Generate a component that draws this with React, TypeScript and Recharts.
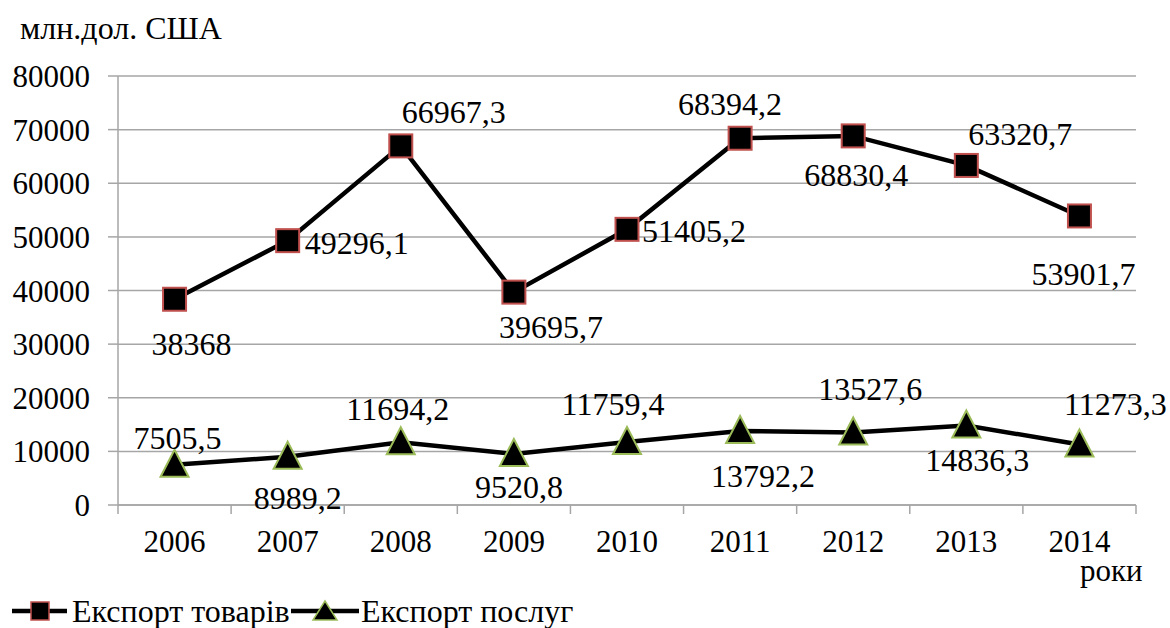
import React from 'react';
import { LineChart, Line, XAxis, YAxis, CartesianGrid, LabelList } from 'recharts';

const years = ['2006', '2007', '2008', '2009', '2010', '2011', '2012', '2013', '2014'];
const goodsExport = [38368, 49296.1, 66967.3, 39695.7, 51405.2, 68394.2, 68830.4, 63320.7, 53901.7];
const servicesExport = [7505.5, 8989.2, 11694.2, 9520.8, 11759.4, 13792.2, 13527.6, 14836.3, 11273.3];
const yTicks = [0, 10000, 20000, 30000, 40000, 50000, 60000, 70000, 80000];

const goodsName = 'Експорт товарів';
const servicesName = 'Експорт послуг';
const unitTitle = 'млн.дол. США';
const xUnit = 'роки';

// label placement offsets (dx, dy of label centre relative to the point)
const goodsLabelDx = [17, 69, 53, 37, 67, -10, 3, 54, 4];
const goodsLabelDy = [45, 2, -34, 35, 2, -34, 39, -31, 58];
const servLabelDx = [3, 10, -3, 5, -14, 23, 17, 11, 36];
const servLabelDy = [-27, 41, -33, 33, -38, 45, -43, 35, -41];

const FONT = 'Liberation Serif';
const GRID = '#a6a6a6';
const RED = '#c0504d';
const GREEN = '#9bbb59';

const rows = years.map((y, i) => ({ year: y, goods: goodsExport[i], services: servicesExport[i] }));

const fmt = (v: number) => String(v).replace('.', ',');

const makeLabel = (dxs: number[], dys: number[]) => (props: any) => {
  const { x, y, index, value } = props;
  return (
    <text x={x + dxs[index]} y={y + dys[index] + 11} textAnchor="middle" fontFamily={FONT} fontSize={32} fill="#000">
      {fmt(value)}
    </text>
  );
};

const SquareDot = (props: any) => {
  const { cx, cy, index } = props;
  if (cx == null || cy == null) return <g key={index} />;
  const s = 23;
  return <rect key={`sq-${index}`} x={cx - s / 2} y={cy - s / 2} width={s} height={s} fill="#000" stroke={RED} strokeWidth={2} />;
};

const TriDot = (props: any) => {
  const { cx, cy, index } = props;
  if (cx == null || cy == null) return <g key={index} />;
  const pts = `${cx},${cy - 15} ${cx + 14},${cy + 12} ${cx - 14},${cy + 12}`;
  return <polygon key={`tr-${index}`} points={pts} fill="#000" stroke={GREEN} strokeWidth={2} />;
};

const XTick = (props: any) => {
  const { x, y, payload, index, visibleTicksCount } = props;
  const off = payload && payload.offset ? payload.offset : 0;
  const isLast = visibleTicksCount != null ? index === visibleTicksCount - 1 : index === years.length - 1;
  return (
    <g>
      <line x1={x - off} x2={x - off} y1={y} y2={y + 9} stroke={GRID} strokeWidth={1.5} />
      {isLast && <line x1={x + off} x2={x + off} y1={y} y2={y + 9} stroke={GRID} strokeWidth={1.5} />}
      <text x={x} y={y + 47} textAnchor="middle" fontFamily={FONT} fontSize={31} fill="#000">
        {payload.value}
      </text>
    </g>
  );
};

export default function App() {
  return (
    <div style={{ position: 'absolute', left: 0, top: 0, width: 1170, height: 628, background: '#fff' }}>
      <LineChart width={1170} height={628} data={rows} margin={{ top: 76, right: 34, bottom: 63, left: 0 }}>
        <CartesianGrid horizontal vertical={false} stroke={GRID} strokeWidth={1.5} />
        <XAxis
          dataKey="year"
          scale="band"
          height={60}
          axisLine={{ stroke: GRID, strokeWidth: 1.5 }}
          tickLine={false}
          tickSize={0}
          tickMargin={0}
          interval={0}
          tick={<XTick />}
        />
        <YAxis
          width={118}
          domain={[0, 80000]}
          ticks={yTicks}
          interval={0}
          axisLine={{ stroke: GRID, strokeWidth: 1.5 }}
          tickLine={{ stroke: GRID, strokeWidth: 1.5 }}
          tickSize={10}
          tickMargin={18}
          tick={{ fontFamily: FONT, fontSize: 31, fill: '#000' }}
        />
        <Line type="linear" dataKey="goods" name={goodsName} stroke="#000" strokeWidth={4.5} dot={SquareDot} activeDot={false} isAnimationActive={false}>
          <LabelList dataKey="goods" content={makeLabel(goodsLabelDx, goodsLabelDy)} />
        </Line>
        <Line type="linear" dataKey="services" name={servicesName} stroke="#000" strokeWidth={4.5} dot={TriDot} activeDot={false} isAnimationActive={false}>
          <LabelList dataKey="services" content={makeLabel(servLabelDx, servLabelDy)} />
        </Line>
      </LineChart>
      <svg width={1170} height={628} style={{ position: 'absolute', left: 0, top: 0, pointerEvents: 'none' }}>
        <text x={20} y={39} fontFamily={FONT} fontSize={32} fill="#000">{unitTitle}</text>
        <text x={1080} y={581} fontFamily={FONT} fontSize={31} fill="#000">{xUnit}</text>
        <line x1={12} x2={67} y1={611} y2={611} stroke="#000" strokeWidth={4.5} />
        <rect x={31} y={602} width={18} height={18} fill="#000" stroke={RED} strokeWidth={1.5} />
        <text x={72} y={622} fontFamily={FONT} fontSize={32} fill="#000">{goodsName}</text>
        <line x1={291} x2={359} y1={611} y2={611} stroke="#000" strokeWidth={4.5} />
        <polygon points="325,601 337,620 313,620" fill="#000" stroke={GREEN} strokeWidth={1.5} />
        <text x={361} y={622} fontFamily={FONT} fontSize={32} fill="#000">{servicesName}</text>
      </svg>
    </div>
  );
}
